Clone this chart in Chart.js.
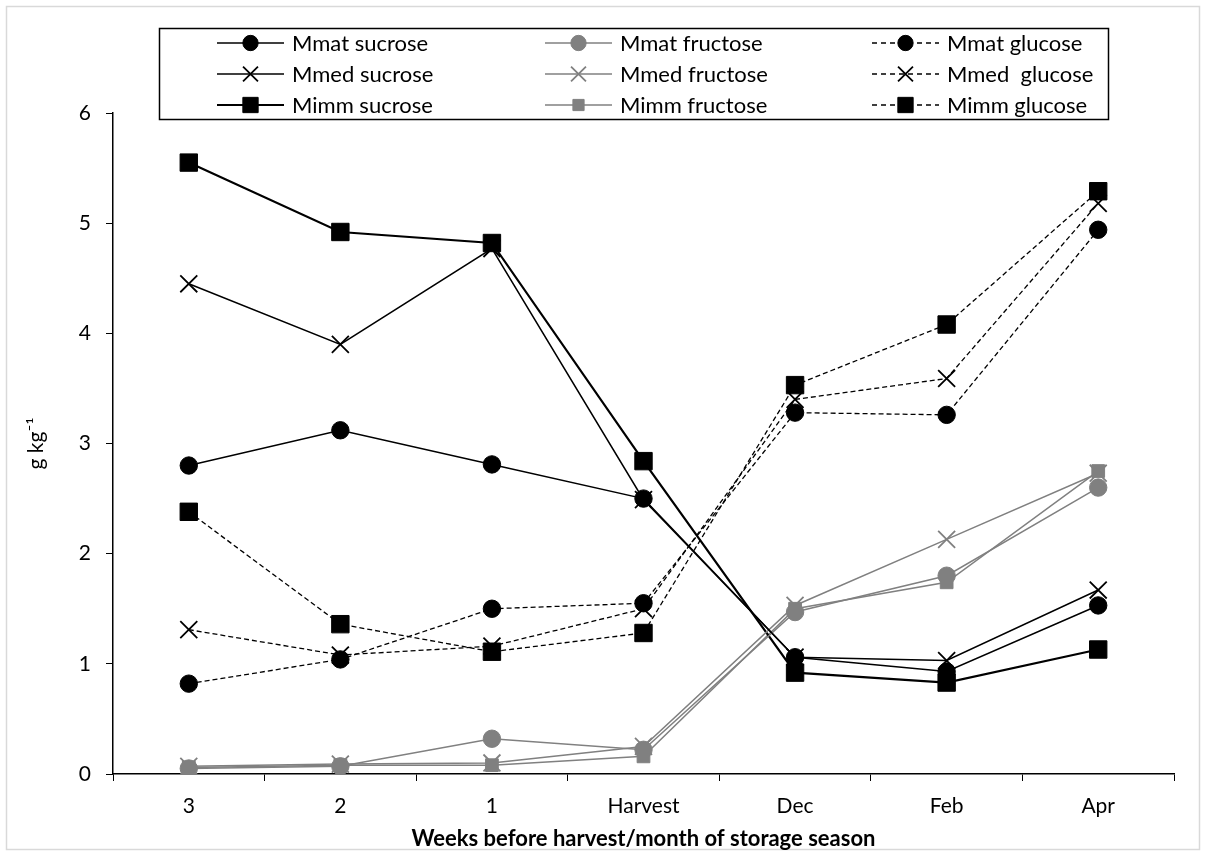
<!DOCTYPE html>
<html>
<head>
<meta charset="utf-8">
<script src="https://cdn.jsdelivr.net/npm/chart.js@4.4.1/dist/chart.umd.min.js"></script>
<style>
  html, body { margin: 0; padding: 0; background: #fff; }
  canvas { display: block; }
</style>
</head>
<body>
<canvas id="sugarChart" width="1206" height="856"></canvas>
<script>
// categories along the x axis
let xLabels = ["3", "2", "1", "Harvest", "Dec", "Feb", "Apr"];

// sucrose, g kg-1
let mmatSucrose = [2.80, 3.12, 2.81, 2.50, 1.06, 0.93, 1.53];
let mmedSucrose = [4.45, 3.90, 4.77, 2.49, 1.06, 1.03, 1.67];
let mimmSucrose = [5.55, 4.92, 4.82, 2.84, 0.92, 0.83, 1.13];

// fructose
let mmatFructose = [0.05, 0.07, 0.32, 0.22, 1.47, 1.80, 2.60];
let mmedFructose = [0.07, 0.09, 0.10, 0.25, 1.53, 2.13, 2.73];
let mimmFructose = [0.06, 0.08, 0.08, 0.16, 1.50, 1.74, 2.75];

// glucose
let mmatGlucose = [0.82, 1.04, 1.50, 1.55, 3.28, 3.26, 4.94];
let mmedGlucose = [1.31, 1.08, 1.16, 1.50, 3.40, 3.59, 5.18];
let mimmGlucose = [2.38, 1.36, 1.11, 1.28, 3.53, 4.08, 5.29];

let yTicks = [0, 1, 2, 3, 4, 5, 6];

const BLACK = "#000000";
const GREY = "#808080";
const FONT = "Lato, 'Open Sans', sans-serif";

function series(label, data, color, style, radius, width, dash) {
    return {
        label: label,
        data: data,
        borderColor: color,
        borderWidth: width,
        borderDash: dash,
        pointStyle: style,
        pointRadius: radius,
        pointHoverRadius: radius,
        pointBackgroundColor: color,
        pointBorderColor: color,
        pointBorderWidth: style === "crossRot" ? 1.8 : 1,
        fill: false,
        tension: 0
    };
}

// order = legend order, row by row
let datasets = [
    series("Mmat sucrose", mmatSucrose, BLACK, "circle", 8.7, 1.5, []),
    series("Mmat fructose", mmatFructose, GREY, "circle", 8.7, 1.5, []),
    series("Mmat glucose", mmatGlucose, BLACK, "circle", 8.7, 1.3, [5, 3]),
    series("Mmed sucrose", mmedSucrose, BLACK, "crossRot", 12, 1.5, []),
    series("Mmed fructose", mmedFructose, GREY, "crossRot", 12, 1.5, []),
    series("Mmed  glucose", mmedGlucose, BLACK, "crossRot", 12, 1.3, [5, 3]),
    series("Mimm sucrose", mimmSucrose, BLACK, "rect", 12.3, 2.2, []),
    series("Mimm fructose", mimmFructose, GREY, "rect", 9, 1.5, []),
    series("Mimm glucose", mimmGlucose, BLACK, "rect", 12.3, 1.3, [5, 3])
];

// white page with the thin grey frame
const frame = {
    id: "frame",
    beforeDraw(chart) {
        const ctx = chart.ctx;
        ctx.save();
        ctx.fillStyle = "#fff";
        ctx.fillRect(0, 0, chart.width, chart.height);
        ctx.strokeStyle = "#d9d9d9";
        ctx.lineWidth = 1.5;
        ctx.strokeRect(6.5, 6.5, chart.width - 13, chart.height - 13);
        ctx.restore();
    }
};

// legend in a 3 x 3 grid inside a black box
const gridLegend = {
    id: "gridLegend",
    afterDraw(chart) {
        const ctx = chart.ctx;
        const box = { left: 159.5, top: 28.5, right: 1108.5, bottom: 119.5 };
        const colX = [217, 545, 872];
        const rowY = [43, 74, 105];
        ctx.save();
        ctx.strokeStyle = BLACK;
        ctx.lineWidth = 1.5;
        ctx.strokeRect(box.left, box.top, box.right - box.left, box.bottom - box.top);

        chart.data.datasets.forEach((ds, i) => {
            const x0 = colX[i % 3];
            const y = rowY[Math.floor(i / 3)];
            const x1 = x0 + 67;
            ctx.save();
            ctx.strokeStyle = ds.borderColor;
            ctx.lineWidth = ds.borderWidth;
            ctx.setLineDash(ds.borderDash.length ? [5, 4] : []);
            ctx.beginPath();
            ctx.moveTo(x0, y);
            ctx.lineTo(x1, y);
            ctx.stroke();
            ctx.restore();

            ctx.save();
            ctx.fillStyle = ds.pointBackgroundColor;
            ctx.strokeStyle = ds.pointBorderColor;
            ctx.lineWidth = ds.pointBorderWidth;
            Chart.helpers.drawPoint(ctx, {
                pointStyle: ds.pointStyle,
                radius: ds.pointRadius * 0.88,
                rotation: 0,
                borderWidth: ds.pointBorderWidth
            }, (x0 + x1) / 2, y);
            ctx.restore();

            ctx.fillStyle = BLACK;
            ctx.font = "22px " + FONT;
            ctx.textBaseline = "middle";
            ctx.fillText(ds.label, x1 + 8, y + 1);
        });
        ctx.restore();
    }
};

new Chart("sugarChart", {
    type: "line",
    data: {
        labels: xLabels,
        datasets: datasets
    },
    options: {
        responsive: false,
        animation: false,
        devicePixelRatio: 1,
        layout: {
            padding: { top: 113, right: 32, bottom: 0, left: 0 }
        },
        plugins: {
            legend: { display: false },
            tooltip: { enabled: false }
        },
        scales: {
            x: {
                type: "category",
                offset: true,
                grid: {
                    offset: true,
                    drawOnChartArea: false,
                    color: BLACK,
                    lineWidth: 1,
                    tickLength: 7
                },
                border: { color: BLACK, width: 1.5 },
                ticks: {
                    color: BLACK,
                    padding: 13,
                    font: { family: FONT, size: 21 }
                },
                title: {
                    display: true,
                    text: "Weeks before harvest/month of storage season",
                    color: BLACK,
                    font: { family: FONT, size: 22, weight: "bold" },
                    padding: { top: 0, bottom: 4 }
                },
                afterFit(scale) {
                    scale.height = 82;
                }
            },
            y: {
                min: 0,
                max: 6,
                afterBuildTicks(scale) {
                    scale.ticks = yTicks.map(v => ({ value: v }));
                },
                grid: {
                    drawOnChartArea: false,
                    color: BLACK,
                    lineWidth: 1,
                    tickLength: 7
                },
                border: { color: BLACK, width: 1.5 },
                ticks: {
                    color: BLACK,
                    padding: 15,
                    font: { family: FONT, size: 21 }
                },
                title: {
                    display: true,
                    text: "g kg\u207B\u00B9",
                    color: BLACK,
                    font: { family: FONT, size: 21 },
                    padding: { top: 24, bottom: 0 }
                },
                afterFit(scale) {
                    scale.width = 113;
                }
            }
        }
    },
    plugins: [frame, gridLegend]
});
</script>
</body>
</html>
